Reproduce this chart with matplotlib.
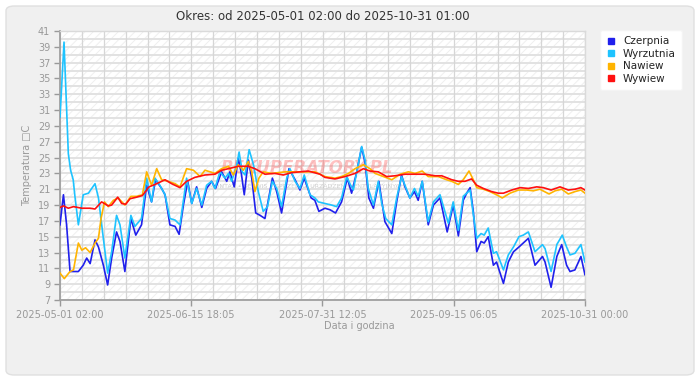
import numpy as np
import pandas as pd
import matplotlib
matplotlib.use("Agg")
import matplotlib.pyplot as plt
from matplotlib.patches import FancyBboxPatch, Rectangle
from matplotlib.lines import Line2D

# dane (dni od poczatku okresu, temperatura w C)
czerpnia_days = [0, 1.2, 2.3, 3.5, 5.2, 6.4, 8.1, 9.3, 10.5, 12.2,
                 13.4, 15.1, 16.6, 18.0, 19.7, 20.9, 22.6, 24.7, 26.4, 28.4,
                 30.2, 31.9, 33.3, 35.4, 36.6, 38.3, 40.1, 41.5, 43.0, 44.5,
                 45.9, 47.6, 49.4, 51.1, 52.8, 54.2, 56.3, 58.1, 59.2, 60.7,
                 62.1, 63.1, 64.2, 65.6, 66.8, 68.2, 69.7, 71.4, 74.0, 75.5,
                 77.2, 79.8, 81.9, 83.6, 85.1, 87.5, 88.8, 90.2, 92.3, 94.1,
                 96.0, 98.1, 100.1, 101.6, 103.4, 105.1, 106.3, 107.6, 109.2, 111.1,
                 113.2, 115.6, 117.3, 119.0, 120.2, 121.9, 123.5, 124.8, 126.2, 128.3,
                 130.1, 132.4, 134.9, 137.0, 137.6, 138.8, 140.5, 141.7, 142.9, 144.0,
                 145.2, 146.7, 147.8, 149.2, 151.0, 152.1, 154.5, 156.2, 158.0, 159.9,
                 161.4, 163.2, 165.5, 168.1, 169.0, 171.1, 173.1, 174.8, 176.5, 177.7,
                 179.4, 181.5, 182.9]
czerpnia_temp = [16.5, 20.3, 16.5, 10.6, 10.6, 10.6, 11.4, 12.3, 11.6, 14.6,
                 13.7, 11.4, 8.9, 12.3, 15.6, 14.4, 10.6, 17.3, 15.2, 16.5,
                 21.5, 19.4, 22.2, 21.1, 20.3, 16.5, 16.3, 15.3, 19.0, 22.0,
                 19.2, 21.3, 18.7, 21.1, 22.0, 21.1, 23.2, 22.0, 23.2, 21.3,
                 24.9, 23.2, 20.3, 24.7, 22.4, 18.0, 17.7, 17.3, 22.4, 20.7,
                 18.0, 23.6, 22.2, 20.9, 22.4, 19.9, 19.6, 18.2, 18.6, 18.4,
                 18.0, 19.4, 22.4, 20.5, 23.2, 26.3, 24.3, 19.9, 18.6, 22.0,
                 16.9, 15.4, 19.4, 22.8, 21.3, 19.9, 20.7, 19.6, 22.0, 16.5,
                 19.0, 19.9, 15.6, 19.0, 17.7, 15.1, 19.6, 20.5, 21.2, 18.2,
                 13.1, 14.4, 14.2, 15.0, 11.4, 11.8, 9.1, 11.8, 13.1, 13.7,
                 14.2, 14.8, 11.4, 12.5, 11.8, 8.6, 12.5, 14.0, 11.4, 10.6,
                 10.8, 12.5, 10.2]

wyrzutnia_days = [0, 1.4, 2.9, 3.7, 4.6, 5.2, 6.4, 8.1, 9.9, 12.2,
                  13.4, 15.1, 16.6, 18.0, 19.7, 20.9, 22.6, 24.7, 26.1, 28.4,
                  30.2, 31.9, 33.1, 34.8, 36.6, 38.3, 40.1, 41.8, 44.1, 45.9,
                  47.6, 49.4, 51.1, 52.8, 54.0, 55.7, 57.5, 58.7, 59.8, 61.6,
                  62.4, 63.5, 64.5, 65.9, 67.4, 69.1, 70.8, 72.3, 74.0, 75.5,
                  77.2, 79.0, 80.1, 81.9, 83.6, 85.1, 87.1, 88.8, 90.0, 92.3,
                  94.6, 96.4, 98.1, 99.9, 101.0, 102.2, 103.4, 105.1, 106.3, 107.4,
                  109.2, 110.9, 112.1, 113.5, 115.6, 117.3, 119.0, 120.2, 121.9, 123.5,
                  124.8, 126.2, 128.3, 130.1, 132.4, 135.3, 137.0, 137.6, 138.8, 140.5,
                  141.7, 142.9, 143.7, 145.2, 146.7, 147.8, 149.2, 151.0, 152.1, 154.5,
                  156.2, 158.0, 159.9, 161.4, 163.2, 165.5, 168.1, 169.0, 171.1, 173.1,
                  175.0, 176.5, 177.7, 179.4, 181.5, 182.9]
wyrzutnia_temp = [30.1, 39.6, 25.5, 23.4, 22.2, 20.1, 16.5, 20.3, 20.5, 21.7,
                  19.9, 14.8, 10.4, 13.1, 17.7, 16.5, 12.3, 17.7, 16.3, 17.3,
                  22.4, 19.4, 22.4, 21.5, 20.3, 17.3, 17.1, 16.5, 22.4, 19.2,
                  21.1, 19.0, 21.5, 22.0, 21.1, 23.2, 22.4, 23.0, 22.0, 24.1,
                  25.7, 23.2, 22.8, 26.0, 24.1, 20.7, 18.2, 18.8, 22.0, 21.1,
                  18.8, 22.4, 23.6, 22.0, 21.1, 22.8, 20.3, 19.9, 19.4, 19.2,
                  19.0, 18.8, 19.9, 22.6, 21.7, 20.9, 23.2, 26.4, 24.7, 21.1,
                  19.0, 22.0, 19.2, 17.3, 16.5, 19.9, 22.6, 21.5, 19.9, 21.1,
                  20.1, 22.0, 16.9, 19.4, 20.3, 16.7, 19.4, 18.2, 15.8, 20.1,
                  20.5, 20.9, 18.6, 14.8, 15.4, 15.2, 16.1, 12.9, 13.1, 10.8,
                  12.7, 13.7, 15.0, 15.2, 15.6, 13.1, 14.0, 13.5, 10.6, 14.0,
                  15.2, 13.7, 12.7, 12.9, 14.0, 11.8]

nawiew_days = [0, 1.5, 3.5, 4.7, 6.4, 7.6, 8.9, 10.5, 12.2, 13.4,
               14.3, 15.5, 16.8, 18.6, 20.3, 22.6, 24.7, 26.7, 28.7, 30.2,
               31.9, 33.7, 35.4, 37.7, 40.1, 41.8, 44.1, 46.5, 48.8, 50.5,
               52.3, 54.0, 56.3, 58.7, 60.4, 62.1, 63.9, 65.6, 66.8, 67.9,
               69.3, 70.8, 73.8, 78.4, 81.9, 85.4, 88.8, 92.3, 95.8, 98.1,
               100.5, 102.8, 105.7, 108.0, 109.8, 112.7, 115.6, 118.5, 121.4, 123.7,
               126.2, 128.3, 131.8, 134.7, 136.5, 138.8, 140.5, 142.5, 144.0, 145.2,
               147.5, 149.8, 152.1, 154.1, 156.8, 159.7, 162.6, 164.9, 167.2, 170.4,
               172.5, 174.8, 177.1, 179.4, 181.5, 182.9]
nawiew_temp = [10.4, 9.7, 10.6, 10.8, 14.2, 13.3, 13.6, 13.0, 14.2, 14.8,
               17.3, 19.4, 18.8, 19.6, 19.9, 19.0, 20.1, 20.1, 20.3, 23.2,
               21.5, 23.6, 22.2, 22.0, 21.7, 21.3, 23.6, 23.4, 22.6, 23.4,
               23.2, 23.0, 23.6, 23.9, 22.8, 24.1, 23.4, 24.5, 23.2, 20.7,
               22.4, 23.2, 23.0, 23.2, 23.2, 23.2, 23.2, 22.6, 22.4, 22.6,
               23.0, 23.6, 24.1, 23.6, 23.0, 22.6, 22.2, 22.9, 23.2, 23.0,
               23.3, 22.6, 22.6, 22.2, 22.0, 21.6, 22.2, 23.3, 22.2, 21.2,
               21.0, 20.7, 20.3, 19.9, 20.5, 20.9, 20.9, 20.8, 21.0, 20.4,
               20.8, 21.0, 20.4, 20.7, 20.9, 20.5]

wywiew_days = [0, 1.2, 2.9, 4.7, 7.6, 10.5, 12.2, 14.5, 16.8, 18.0,
               20.1, 21.5, 22.9, 24.4, 26.7, 28.7, 31.0, 33.1, 36.6, 38.9,
               41.8, 44.1, 47.0, 50.5, 54.0, 56.3, 58.7, 62.1, 65.6, 67.9,
               71.4, 74.9, 77.8, 80.7, 83.6, 86.5, 90.6, 92.3, 95.8, 99.3,
               102.8, 105.7, 108.0, 110.9, 113.8, 116.7, 120.2, 123.7, 127.2, 130.6,
               133.0, 136.5, 138.8, 141.1, 143.4, 145.2, 147.5, 150.4, 152.7, 154.5,
               157.4, 160.3, 163.2, 166.1, 168.4, 171.1, 174.2, 177.1, 179.4, 181.5,
               182.9]
wywiew_temp = [18.7, 18.9, 18.6, 18.8, 18.6, 18.6, 18.5, 19.4, 18.9, 19.0,
               20.0, 19.2, 19.1, 19.8, 20.0, 20.2, 21.3, 21.6, 22.2, 21.7,
               21.2, 22.0, 22.5, 22.8, 22.9, 23.4, 23.6, 23.9, 23.9, 23.6,
               22.9, 23.0, 22.8, 23.1, 23.2, 23.3, 22.9, 22.5, 22.3, 22.6,
               23.0, 23.6, 23.3, 23.2, 22.6, 22.7, 22.9, 22.9, 22.9, 22.7,
               22.7, 22.2, 22.0, 22.0, 22.3, 21.5, 21.1, 20.7, 20.5, 20.5,
               20.9, 21.2, 21.1, 21.3, 21.2, 20.9, 21.3, 20.9, 21.0, 21.2,
               20.9]

series_names = ["Czerpnia", "Wyrzutnia", "Nawiew", "Wywiew"]
series_colors = ["#2020EC", "#1EC3FF", "#FFB400", "#FF1010"]

start_label = "2025-05-01 02:00"
x_tick_labels = ["2025-05-01 02:00", "2025-06-15 18:05", "2025-07-31 12:05",
                 "2025-09-15 06:05", "2025-10-31 00:00"]
title = "Okres: od 2025-05-01 02:00 do 2025-10-31 01:00"

# pozycje etykiet osi X w dniach od poczatku
start = pd.Timestamp(start_label)
tick_days = [(pd.Timestamp(t) - start) / pd.Timedelta(days=1) for t in x_tick_labels]
span = tick_days[-1]

plt.rcParams["hatch.linewidth"] = 0.7

W, H = 700, 390
fig = plt.figure(figsize=(W / 100, H / 100), dpi=100, facecolor="white")

# szare tlo panelu z zaokraglonymi rogami
panel = FancyBboxPatch((6 / W, 1 - 375 / H), 688 / W, 369 / H,
                       boxstyle="round,pad=0,rounding_size=0.012",
                       transform=fig.transFigure, facecolor="#F0F0F0",
                       edgecolor="#E0E0E0", linewidth=1.0, zorder=-5)
fig.add_artist(panel)

ax = fig.add_axes([60 / W, 1 - 300 / H, 525 / W, 269 / H])
ax.set_facecolor("white")
ax.add_patch(Rectangle((0, 0), 1, 1, transform=ax.transAxes, facecolor="white",
                       edgecolor="#EFEFEF", hatch="////", linewidth=0, zorder=0))

# siatka
for v in np.arange(7, 42, 1):
    ax.axhline(v, color="#E2E2E2", lw=1.4, zorder=1)
for d in np.linspace(0, span, 25):
    ax.axvline(d, color="#D6D6D6", lw=0.9, zorder=1)

all_days = [czerpnia_days, wyrzutnia_days, nawiew_days, wywiew_days]
all_temp = [czerpnia_temp, wyrzutnia_temp, nawiew_temp, wywiew_temp]
for days, temp, color in zip(all_days, all_temp, series_colors):
    ax.plot(days, temp, color=color, lw=1.2, zorder=3, solid_joinstyle="round")

# znak wodny
ax.text(0.47, 0.49, "REKUPERATORY.PL", transform=ax.transAxes, ha="center", va="center",
        fontsize=12, fontweight="bold", style="italic", color="#FF5050", alpha=0.35, zorder=2)
ax.text(0.47, 0.425, "MONTAŻ • SERWIS • SPRZEDAŻ URZĄDZEŃ WENTYLACYJNYCH",
        transform=ax.transAxes, ha="center", va="center", fontsize=4.5,
        color="#B0B0B0", alpha=0.6, zorder=2)

ax.set_xlim(0, span)
ax.set_ylim(7, 41)
ax.set_xticks(tick_days)
ax.set_xticklabels(x_tick_labels)
ax.set_yticks(np.arange(7, 42, 2))

ax.tick_params(axis="both", colors="#999999", labelsize=7, length=4, width=1, pad=3)
for s in ["left", "bottom"]:
    ax.spines[s].set_color("#A0A0A0")
    ax.spines[s].set_linewidth(1.3)
for s in ["top", "right"]:
    ax.spines[s].set_color("#DADADA")
    ax.spines[s].set_linewidth(1.0)

ax.set_title(title, fontsize=8.5, color="#333333", pad=8)
fig.text(27 / W, 1 - 165 / H, "Temperatura \u25a1C", rotation=90, ha="center", va="center",
         fontsize=7, color="#999999")
fig.text(359 / W, 1 - 326 / H, "Data i godzina", ha="center", va="center",
         fontsize=7, color="#999999")

# legenda
handles = [Line2D([], [], ls="none", marker="s", markersize=4.5, color=c) for c in series_colors]
leg = fig.legend(handles, series_names, loc="upper left", bbox_to_anchor=(600 / W, 1 - 30 / H),
                 fontsize=7.5, frameon=True, fancybox=True, facecolor="white", edgecolor="#F4F4F4",
                 framealpha=1, handlelength=1.0, handletextpad=0.6, labelspacing=0.25,
                 borderpad=0.6, borderaxespad=0)
for t in leg.get_texts():
    t.set_color("#222222")

fig.savefig("out.png", dpi=100, facecolor="white")
